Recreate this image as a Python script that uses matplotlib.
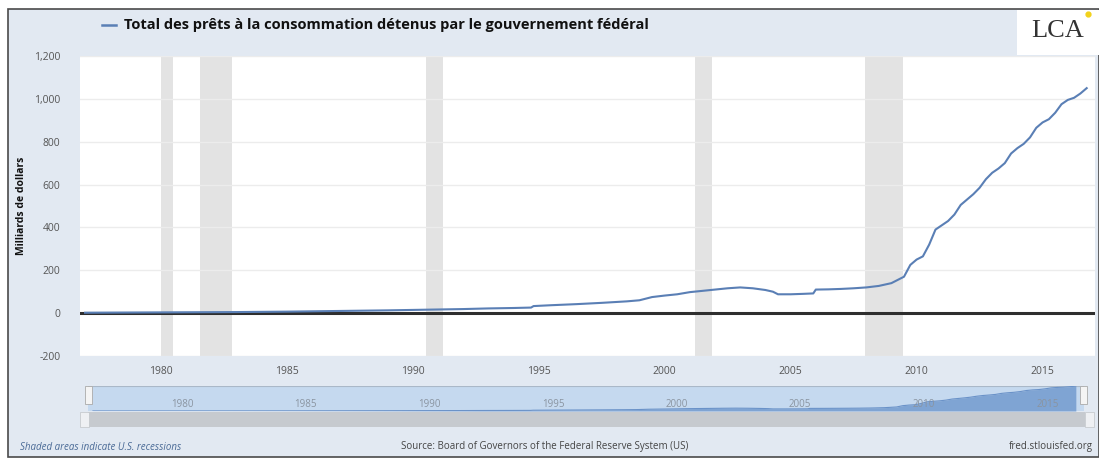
import matplotlib
matplotlib.use("Agg")
import matplotlib.pyplot as plt
from matplotlib.patches import Rectangle
from matplotlib.ticker import FuncFormatter

W, H = 1099, 458

# ---------------- data ----------------
dates = [1977.0, 1979.0, 1981.0, 1983.0, 1985.0, 1987.0, 1989.0, 1990.0, 1991.0,
         1992.0, 1993.0, 1994.0, 1994.7, 1994.8, 1995.5, 1996.5, 1997.5, 1998.5,
         1999.0, 1999.5, 2000.0, 2000.5, 2001.0, 2001.5, 2002.0, 2002.5, 2003.0,
         2003.5, 2004.0, 2004.3, 2004.5, 2005.0, 2005.5, 2005.9, 2006.0, 2006.5,
         2007.0, 2007.5, 2008.0, 2008.5, 2009.0, 2009.25, 2009.5, 2009.75,
         2010.0, 2010.25, 2010.5, 2010.75, 2011.0, 2011.25, 2011.5, 2011.75,
         2012.0, 2012.25, 2012.5, 2012.75, 2013.0, 2013.25, 2013.5, 2013.75,
         2014.0, 2014.25, 2014.5, 2014.75, 2015.0, 2015.25, 2015.5, 2015.75,
         2016.0, 2016.25, 2016.5, 2016.75]
values = [2, 3, 4, 5, 7, 10, 13, 15, 17,
          19, 22, 24, 26, 33, 37, 42, 48, 55,
          60, 75, 82, 88, 98, 104, 110, 116, 120,
          116, 108, 100, 88, 88, 90, 92, 110, 111,
          113, 116, 120, 127, 140, 155, 170, 225,
          250, 265, 320, 390, 410, 430, 460, 505,
          530, 555, 585, 625, 655, 675, 700, 745,
          770, 790, 820, 865, 890, 905, 935, 975,
          995, 1005, 1025, 1050]

recession_starts = [1980.0, 1981.55, 1990.55, 2001.2, 2007.95]
recession_ends = [1980.5, 1982.85, 1991.2, 2001.9, 2009.45]

y_ticks = [-200, 0, 200, 400, 600, 800, 1000, 1200]
x_ticks = [1980, 1985, 1990, 1995, 2000, 2005, 2010, 2015]

series_label = "Total des prêts à la consommation détenus par le gouvernement fédéral"
y_label = "Milliards de dollars"
note_left = "Shaded areas indicate U.S. recessions"
note_mid = "Source: Board of Governors of the Federal Reserve System (US)"
note_right = "fred.stlouisfed.org"

XMIN, XMAX = 1976.8, 2017.08

# ---------------- styling ----------------
BG = "#e2e9f2"
LINE = "#5a7fb5"
plt.rcParams['font.family'] = ['Open Sans', 'DejaVu Sans']

fig = plt.figure(figsize=(W / 100, H / 100), dpi=100)
fig.patch.set_facecolor("white")

def fx(x):
    return x / W

def fy(y):
    return 1 - y / H

def frect(x0, y0, x1, y1, **kw):
    r = Rectangle((fx(x0), fy(y1)), fx(x1) - fx(x0), fy(y0) - fy(y1),
                  transform=fig.transFigure, **kw)
    fig.add_artist(r)
    return r

# outer frame
frect(8, 9, 1099, 457, facecolor=BG, edgecolor="#4a4a4a", linewidth=1.2, zorder=0)
# logo white box
frect(1017, 10, 1099, 55, facecolor="white", edgecolor="none", zorder=1)
fig.text(fx(1058), fy(31), "LCA", fontsize=19, family="Liberation Serif",
         color="#333333", ha="center", va="center", zorder=2)
fig.add_artist(plt.Line2D([fx(1088)], [fy(14)], marker="o", markersize=3.5,
                          color="#f2d21b", transform=fig.transFigure, zorder=3))

# legend
fig.add_artist(plt.Line2D([fx(102), fx(116)], [fy(25), fy(25)], color=LINE,
                          linewidth=1.8, transform=fig.transFigure, zorder=2))
fig.text(fx(124), fy(25), series_label, fontsize=10.5, fontweight="bold",
         family=["Open Sans", "DejaVu Sans"], color="#111111", va="center", ha="left")

# ---------------- main axes ----------------
ax = fig.add_axes([fx(80), fy(356), fx(1095) - fx(80), fy(56) - fy(356)])
ax.set_facecolor("white")
for s0, s1 in zip(recession_starts, recession_ends):
    ax.axvspan(s0, s1, color="#e3e3e3", linewidth=0, zorder=0)
ax.set_xlim(XMIN, XMAX)
ax.set_ylim(-200, 1200)
ax.set_yticks(y_ticks)
ax.set_xticks(x_ticks)
ax.yaxis.set_major_formatter(FuncFormatter(lambda v, p: f"{int(v):,}"))
ax.grid(axis="y", color="#ececec", linewidth=1.0, zorder=0.5)
ax.axhline(0, color="#2e2e2e", linewidth=2.2, zorder=2)
ax.plot(dates, values, color=LINE, linewidth=1.5, zorder=3)
for s in ax.spines.values():
    s.set_visible(False)
ax.tick_params(axis="both", length=0, labelsize=7.5, labelcolor="#555555")
ax.tick_params(axis="y", pad=14)
ax.tick_params(axis="x", pad=7)
ax.set_ylabel(y_label, fontsize=7.5, fontweight="bold", color="#111111")
ax.yaxis.set_label_coords(-0.052, 0.5)

# ---------------- navigator ----------------
nav = fig.add_axes([fx(88), fy(411), fx(1084) - fx(88), fy(386) - fy(411)])
nav.set_facecolor("#c5d9ef")
nav.set_xlim(XMIN, XMAX)
nav.set_ylim(0, max(values) * 1.005)
nav.fill_between(dates, values, 0, color="#7fa4d3", linewidth=0, zorder=2)
nav.plot(dates, values, color="#6a92c8", linewidth=0.8, zorder=3)
nav.set_xticks([])
nav.set_yticks([])
for s in nav.spines.values():
    s.set_visible(False)
nav.axhline(nav.get_ylim()[1], color="#aab8c8", linewidth=0.8)
for t in x_ticks:
    nav.text(t + 0.15, 0.25 * nav.get_ylim()[1], str(t), fontsize=7, color="#8a94a0",
             ha="left", va="center", zorder=4)

# scrollbar
frect(88, 412, 1085, 427, facecolor="#c6cacf", edgecolor="none", zorder=1)
frect(80, 412, 89, 427, facecolor="#eef0f3", edgecolor="#c0c4c8", linewidth=0.5, zorder=2)
frect(1085, 412, 1094, 427, facecolor="#eef0f3", edgecolor="#c0c4c8", linewidth=0.5, zorder=2)
frect(85, 386, 92, 404, facecolor="#f4f4f4", edgecolor="#aaaaaa", linewidth=0.6, zorder=5)
frect(1080, 386, 1087, 404, facecolor="#f4f4f4", edgecolor="#aaaaaa", linewidth=0.6, zorder=5)

# ---------------- footer ----------------
fig.text(fx(20), fy(447), note_left, fontsize=7, style="italic", color="#4a6a96",
         ha="left", va="center")
fig.text(fx(545), fy(447), note_mid, fontsize=7, color="#444444", ha="center", va="center")
fig.text(fx(1093), fy(447), note_right, fontsize=7, color="#444444", ha="right", va="center")

fig.savefig("out.png", dpi=100, facecolor=fig.get_facecolor())
